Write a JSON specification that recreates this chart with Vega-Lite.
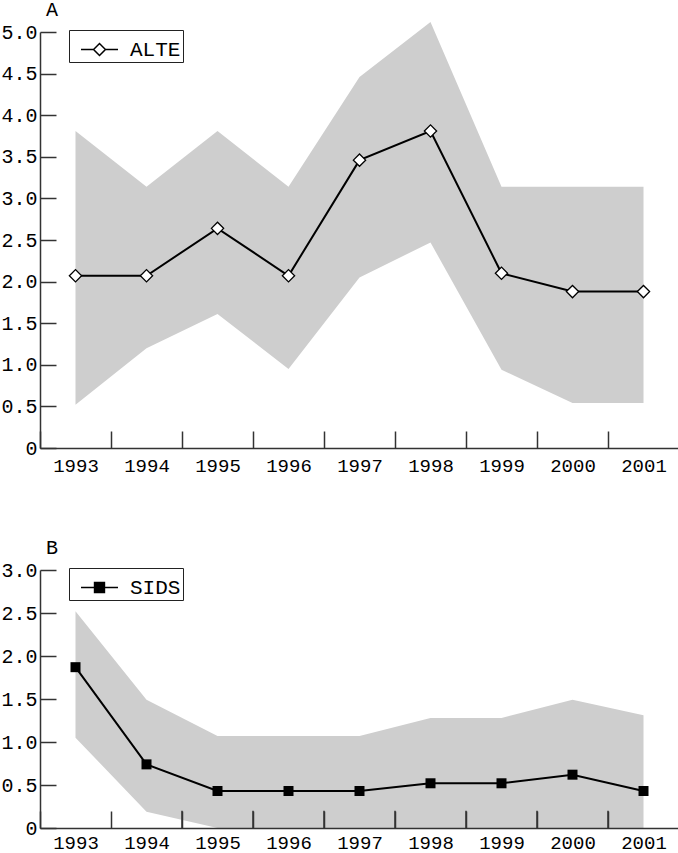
{
  "$schema": "https://vega.github.io/schema/vega-lite/v6.json",
  "padding": {"left": 0, "top": 0, "right": 0, "bottom": 4},
  "background": "white",
  "spacing": 122,
  "bounds": "flush",
  "resolve": {"scale": {"color": "independent"}, "legend": {"color": "independent"}},
  "config": {
    "view": {"stroke": null},
    "font": "Liberation Mono",
    "axis": {
      "labelFont": "Liberation Mono",
      "labelFontSize": 20,
      "labelColor": "black",
      "domainColor": "#333",
      "domainWidth": 1.5,
      "tickColor": "#333",
      "tickWidth": 1.5,
      "grid": false,
      "title": null,
      "zindex": 2
    },
    "title": {"font": "Liberation Mono", "fontSize": 20, "fontWeight": "normal", "color": "black", "anchor": "start", "frame": "group"}
  },
  "datasets": {
    "alte": [
      {"year": "1993", "value": 2.07, "upper": 3.81, "lower": 0.52, "series": "ALTE"},
      {"year": "1994", "value": 2.07, "upper": 3.14, "lower": 1.20, "series": "ALTE"},
      {"year": "1995", "value": 2.64, "upper": 3.81, "lower": 1.61, "series": "ALTE"},
      {"year": "1996", "value": 2.07, "upper": 3.14, "lower": 0.95, "series": "ALTE"},
      {"year": "1997", "value": 3.46, "upper": 4.46, "lower": 2.05, "series": "ALTE"},
      {"year": "1998", "value": 3.81, "upper": 5.12, "lower": 2.47, "series": "ALTE"},
      {"year": "1999", "value": 2.10, "upper": 3.14, "lower": 0.94, "series": "ALTE"},
      {"year": "2000", "value": 1.88, "upper": 3.14, "lower": 0.54, "series": "ALTE"},
      {"year": "2001", "value": 1.88, "upper": 3.14, "lower": 0.54, "series": "ALTE"}
    ],
    "sids": [
      {"year": "1993", "value": 1.87, "upper": 2.52, "lower": 1.05, "series": "SIDS"},
      {"year": "1994", "value": 0.74, "upper": 1.49, "lower": 0.19, "series": "SIDS"},
      {"year": "1995", "value": 0.43, "upper": 1.07, "lower": 0.0, "series": "SIDS"},
      {"year": "1996", "value": 0.43, "upper": 1.07, "lower": 0.0, "series": "SIDS"},
      {"year": "1997", "value": 0.43, "upper": 1.07, "lower": 0.0, "series": "SIDS"},
      {"year": "1998", "value": 0.52, "upper": 1.28, "lower": 0.0, "series": "SIDS"},
      {"year": "1999", "value": 0.52, "upper": 1.28, "lower": 0.0, "series": "SIDS"},
      {"year": "2000", "value": 0.62, "upper": 1.49, "lower": 0.0, "series": "SIDS"},
      {"year": "2001", "value": 0.43, "upper": 1.31, "lower": 0.0, "series": "SIDS"}
    ]
  },
  "vconcat": [
    {
      "width": 639,
      "height": 416,
      "title": {"text": "A", "dx": 6, "offset": 2},
      "data": {"name": "alte"},
      "encoding": {
        "x": {
          "field": "year", "type": "ordinal", "bandPosition": 0.5,
          "scale": {"type": "band", "paddingInner": 0, "paddingOuter": 0},
          "axis": {"tickBand": "extent", "tickSize": -17, "labelAngle": 0, "labelPadding": 25, "labelFontSize": 19, "zindex": 2, "title": null}
        }
      },
      "layer": [
        {
          "mark": {"type": "area", "color": "#cecece", "opacity": 1},
          "encoding": {
            "y": {"field": "upper", "type": "quantitative", "title": null,
              "scale": {"domain": [0, 5], "nice": false, "zero": true},
              "axis": {"values": [0, 0.5, 1, 1.5, 2, 2.5, 3, 3.5, 4, 4.5, 5], "tickSize": -16, "labelPadding": 19, "zindex": 2,
                "labelExpr": "datum.value == 0 ? '0' : format(datum.value, '.1f')", "title": null}},
            "y2": {"field": "lower"}
          }
        },
        {
          "mark": {"type": "line", "strokeWidth": 2},
          "encoding": {
            "y": {"field": "value", "type": "quantitative", "title": null},
            "color": {
              "field": "series", "type": "nominal",
              "scale": {"range": ["black"]},
              "legend": {
                "title": null, "orient": "none", "legendX": 29, "legendY": -2,
                "strokeColor": "#222", "fillColor": "white", "padding": 2,
                "symbolType": "M-1.12,0L-0.36,0M-0.36,0L0,-0.36L0.36,0L0,0.36ZM0.36,0L1.12,0",
                "symbolSize": 1089, "symbolOffset": 11, "labelOffset": 13,
                "labelFont": "Liberation Mono", "labelFontSize": 21, "labelColor": "black",
                "encode": {"symbols": {"update": {"fill": {"value": "white"}, "stroke": {"value": "black"}, "strokeWidth": {"value": 1.5}, "opacity": {"value": 1}}}}
              }
            }
          }
        },
        {
          "mark": {"type": "point", "shape": "diamond", "filled": true, "fill": "white", "stroke": "black", "strokeWidth": 1.3, "size": 150, "opacity": 1},
          "encoding": {"y": {"field": "value", "type": "quantitative", "title": null}}
        }
      ]
    },
    {
      "width": 639,
      "height": 258,
      "title": {"text": "B", "dx": 6, "offset": 2},
      "data": {"name": "sids"},
      "encoding": {
        "x": {
          "field": "year", "type": "ordinal", "bandPosition": 0.5,
          "scale": {"type": "band", "paddingInner": 0, "paddingOuter": 0},
          "axis": {"tickBand": "extent", "tickSize": -17, "labelAngle": 0, "labelPadding": 22, "labelFontSize": 19, "zindex": 2, "title": null}
        }
      },
      "layer": [
        {
          "mark": {"type": "area", "color": "#cecece", "opacity": 1},
          "encoding": {
            "y": {"field": "upper", "type": "quantitative", "title": null,
              "scale": {"domain": [0, 3], "nice": false, "zero": true},
              "axis": {"values": [0, 0.5, 1, 1.5, 2, 2.5, 3], "tickSize": -16, "labelPadding": 19, "zindex": 2,
                "labelExpr": "datum.value == 0 ? '0' : format(datum.value, '.1f')", "title": null}},
            "y2": {"field": "lower"}
          }
        },
        {
          "transform": [{"filter": "datum.year >= '1995'"}],
          "mark": {"type": "rule", "color": "#333", "strokeWidth": 1.5},
          "encoding": {
            "x": {"field": "year", "type": "ordinal", "bandPosition": 0},
            "y": {"datum": 0, "type": "quantitative"},
            "y2": {"datum": 0.2}
          }
        },
        {
          "mark": {"type": "line", "strokeWidth": 2},
          "encoding": {
            "y": {"field": "value", "type": "quantitative", "title": null},
            "color": {
              "field": "series", "type": "nominal",
              "scale": {"range": ["black"]},
              "legend": {
                "title": null, "orient": "none", "legendX": 29, "legendY": -2,
                "strokeColor": "#222", "fillColor": "white", "padding": 2,
                "symbolType": "M-1.12,0L-0.3,0M-0.3,-0.3L0.3,-0.3L0.3,0.3L-0.3,0.3ZM0.3,0L1.12,0",
                "symbolSize": 1089, "symbolOffset": 11, "labelOffset": 13,
                "labelFont": "Liberation Mono", "labelFontSize": 21, "labelColor": "black",
                "encode": {"symbols": {"update": {"fill": {"value": "black"}, "stroke": {"value": "black"}, "strokeWidth": {"value": 1.5}, "opacity": {"value": 1}}}}
              }
            }
          }
        },
        {
          "mark": {"type": "square", "filled": true, "color": "black", "size": 100, "opacity": 1},
          "encoding": {"y": {"field": "value", "type": "quantitative", "title": null}}
        }
      ]
    }
  ]
}
